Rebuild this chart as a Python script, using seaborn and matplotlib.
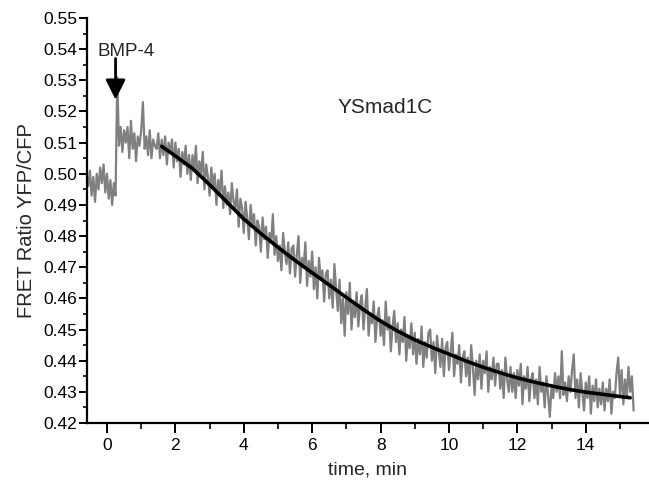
import numpy as np
import pandas as pd
import matplotlib
matplotlib.use("Agg")
import matplotlib.pyplot as plt
from matplotlib.ticker import MultipleLocator, FormatStrFormatter
import seaborn as sns

# ---------------- data ----------------
trace_start_min = -0.55
trace_step_min = 0.05
ratio_trace = [
    0.496, 0.501, 0.493, 0.499, 0.491, 0.500, 0.495, 0.502, 0.497, 0.503,
    0.494, 0.500, 0.492, 0.498, 0.490, 0.497, 0.493, 0.531, 0.509, 0.515,
    0.507, 0.514, 0.510, 0.515, 0.505, 0.517, 0.508, 0.513, 0.504, 0.512,
    0.509, 0.514, 0.523, 0.508, 0.512, 0.506, 0.514, 0.505, 0.511, 0.509,
    0.508, 0.513, 0.505, 0.511, 0.506, 0.512, 0.503, 0.510, 0.507, 0.511,
    0.502, 0.510, 0.504, 0.508, 0.499, 0.507, 0.503, 0.509, 0.500, 0.506,
    0.498, 0.506, 0.501, 0.509, 0.497, 0.504, 0.500, 0.507, 0.495, 0.503,
    0.499, 0.493, 0.502, 0.496, 0.500, 0.490, 0.498, 0.494, 0.501, 0.489,
    0.496, 0.490, 0.494, 0.487, 0.497, 0.491, 0.489, 0.495, 0.483, 0.492,
    0.489, 0.481, 0.491, 0.486, 0.479, 0.490, 0.484, 0.487, 0.477, 0.485,
    0.483, 0.475, 0.486, 0.479, 0.483, 0.473, 0.481, 0.478, 0.487, 0.474,
    0.480, 0.472, 0.477, 0.469, 0.481, 0.475, 0.471, 0.478, 0.468, 0.476,
    0.477, 0.467, 0.474, 0.480, 0.465, 0.473, 0.470, 0.478, 0.464, 0.472,
    0.467, 0.475, 0.463, 0.470, 0.460, 0.473, 0.466, 0.469, 0.459, 0.468,
    0.469, 0.460, 0.466, 0.457, 0.471, 0.463, 0.456, 0.466, 0.452, 0.460,
    0.448, 0.462, 0.455, 0.465, 0.450, 0.459, 0.454, 0.462, 0.451, 0.458,
    0.461, 0.450, 0.457, 0.463, 0.448, 0.455, 0.452, 0.459, 0.446, 0.454,
    0.457, 0.448, 0.453, 0.445, 0.459, 0.450, 0.454, 0.443, 0.451, 0.456,
    0.446, 0.452, 0.442, 0.450, 0.446, 0.454, 0.440, 0.448, 0.444, 0.452,
    0.442, 0.449, 0.439, 0.447, 0.442, 0.451, 0.438, 0.446, 0.441, 0.449,
    0.450, 0.440, 0.446, 0.436, 0.448, 0.443, 0.438, 0.447, 0.435, 0.444,
    0.446, 0.437, 0.443, 0.449, 0.435, 0.442, 0.439, 0.445, 0.433, 0.441,
    0.443, 0.435, 0.441, 0.432, 0.445, 0.438, 0.429, 0.440, 0.434, 0.442,
    0.431, 0.440, 0.436, 0.443, 0.430, 0.438, 0.434, 0.441, 0.432, 0.439,
    0.439, 0.431, 0.437, 0.428, 0.441, 0.434, 0.430, 0.438, 0.430, 0.436,
    0.428, 0.437, 0.432, 0.439, 0.426, 0.435, 0.431, 0.438, 0.427, 0.434,
    0.436, 0.428, 0.434, 0.426, 0.438, 0.430, 0.433, 0.425, 0.435, 0.429,
    0.422, 0.432, 0.428, 0.436, 0.430, 0.435, 0.428, 0.443, 0.429, 0.433,
    0.427, 0.435, 0.430, 0.437, 0.442, 0.428, 0.434, 0.425, 0.436, 0.430,
    0.424, 0.433, 0.428, 0.435, 0.423, 0.432, 0.427, 0.434, 0.425, 0.431,
    0.426, 0.433, 0.424, 0.431, 0.427, 0.434, 0.423, 0.430, 0.428, 0.436,
    0.441, 0.429, 0.437, 0.426, 0.434, 0.428, 0.438, 0.430, 0.435, 0.424,
]
trace_time = np.round(trace_start_min + trace_step_min * np.arange(len(ratio_trace)), 3)

fit_time = [1.6, 2.0, 2.5, 3.0, 3.5, 4.0, 4.5, 5.0, 5.5, 6.0, 6.5, 7.0,
            7.5, 8.0, 8.5, 9.0, 9.5, 10.0, 10.5, 11.0, 11.5, 12.0, 12.5,
            13.0, 13.5, 14.0, 14.5, 15.0, 15.3]
fit_ratio = [0.5088, 0.5057, 0.5017, 0.4965, 0.4910, 0.4855, 0.4808, 0.4764,
             0.4722, 0.4682, 0.4643, 0.4603, 0.4564, 0.4527, 0.4495, 0.4467,
             0.4443, 0.4421, 0.4399, 0.4379, 0.4361, 0.4345, 0.4331, 0.4319,
             0.4308, 0.4299, 0.4292, 0.4285, 0.4281]

stim_time = 0.25
stim_label = "BMP-4"
construct_label = "YSmad1C"
x_label = "time, min"
y_label = "FRET Ratio YFP/CFP"

trace_df = pd.DataFrame({"time": trace_time, "ratio": ratio_trace})
fit_df = pd.DataFrame({"time": fit_time, "ratio": fit_ratio})

# ---------------- style ----------------
sns.set_style("ticks")
plt.rcParams["font.family"] = ["Liberation Sans", "DejaVu Sans"]

fig = plt.figure(figsize=(6.49, 4.88), dpi=100)
ax = fig.add_axes([87 / 649, 65 / 488, 562 / 649, 405 / 488])

sns.lineplot(data=trace_df, x="time", y="ratio", estimator=None, color="#808080",
             lw=1.6, ax=ax)
sns.lineplot(data=fit_df, x="time", y="ratio", estimator=None, color="black",
             lw=2.6, ax=ax)

ax.set_xlim(-0.585, 15.85)
ax.set_ylim(0.42, 0.55)

ax.xaxis.set_major_locator(MultipleLocator(2))
ax.xaxis.set_minor_locator(MultipleLocator(1))
ax.yaxis.set_major_locator(MultipleLocator(0.01))
ax.yaxis.set_minor_locator(MultipleLocator(0.005))
ax.yaxis.set_major_formatter(FormatStrFormatter("%.2f"))

for s in ["top", "right"]:
    ax.spines[s].set_visible(False)
for s in ["left", "bottom"]:
    ax.spines[s].set_linewidth(1.6)
    ax.spines[s].set_color("black")

ax.tick_params(axis="both", which="major", direction="out", width=1.4,
               colors="black", labelsize=12.5)
ax.tick_params(axis="y", which="major", length=6, pad=1)
ax.tick_params(axis="x", which="major", length=7, pad=4)
ax.tick_params(axis="y", which="minor", length=3, width=1.4)
ax.tick_params(axis="x", which="minor", length=4, width=1.4)

ax.set_xlabel(x_label, fontsize=14, labelpad=6)
ax.set_ylabel(y_label, fontsize=14.5, labelpad=5)

ax.annotate("", xy=(stim_time, 0.5238), xytext=(stim_time, 0.5370),
            arrowprops=dict(arrowstyle="-|>,head_length=0.6,head_width=0.3",
                            color="black", lw=2, mutation_scale=20,
                            shrinkA=0, shrinkB=0))
ax.text(0.55, 0.5394, stim_label, fontsize=13.5, ha="center", va="center")
ax.text(8.13, 0.5214, construct_label, fontsize=15, ha="center", va="center")

fig.savefig("out.png", dpi=100)
